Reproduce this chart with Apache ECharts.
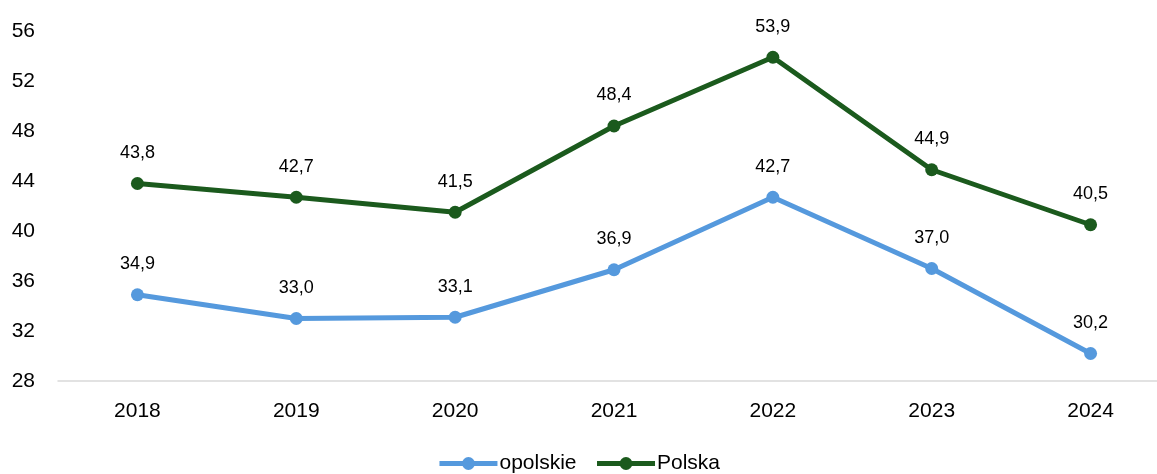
<!DOCTYPE html>
<html><head><meta charset="utf-8">
<script src="https://cdn.jsdelivr.net/npm/echarts@6/dist/echarts.min.js"></script>
<style>html,body{margin:0;padding:0;background:#fff}#c{width:1157px;height:474px}</style>
</head><body><div id="c"></div>
<script>
const categories = ['2018','2019','2020','2021','2022','2023','2024'];
const opolskie = [34.9, 33.0, 33.1, 36.9, 42.7, 37.0, 30.2];
const polska = [43.8, 42.7, 41.5, 48.4, 53.9, 44.9, 40.5];
const yMin = 28, yMax = 56, yStep = 4;

const FONT = 'Liberation Sans';
const fmt = p => p.value.toFixed(1).replace('.', ',');
function mk(name, data, color) {
  return {
    name, type: 'line', data,
    lineStyle: { width: 5, color },
    itemStyle: { color },
    symbol: 'circle', symbolSize: 13,
    label: { show: true, position: 'top', distance: 15, formatter: fmt,
             fontFamily: FONT, fontSize: 18, color: '#000' }
  };
}
const chart = echarts.init(document.getElementById('c'));
chart.setOption({
  animation: false,
  grid: { left: 58, top: 31, height: 350, width: 1112, outerBoundsMode: 'none', containLabel: false },
  legend: { bottom: -5, left: 'center', itemWidth: 58, itemHeight: 16, itemGap: 18,
            lineStyle: { width: 5 },
            textStyle: { fontFamily: FONT, fontSize: 21, color: '#000', padding: [0,0,0,-3] },
            data: ['opolskie', 'Polska'] },
  xAxis: { type: 'category', data: categories, boundaryGap: true,
           axisLine: { lineStyle: { color: '#d9d9d9', width: 1.5 } },
           axisTick: { show: false },
           axisLabel: { margin: 20, fontFamily: FONT, fontSize: 21, color: '#000' } },
  yAxis: { type: 'value', min: yMin, max: yMax, interval: yStep,
           splitLine: { show: false }, axisLine: { show: false }, axisTick: { show: false },
           axisLabel: { margin: 23, fontFamily: FONT, fontSize: 21, color: '#000' } },
  series: [ mk('opolskie', opolskie, '#5599DD'), mk('Polska', polska, '#1B5A1D') ]
});
</script></body></html>
